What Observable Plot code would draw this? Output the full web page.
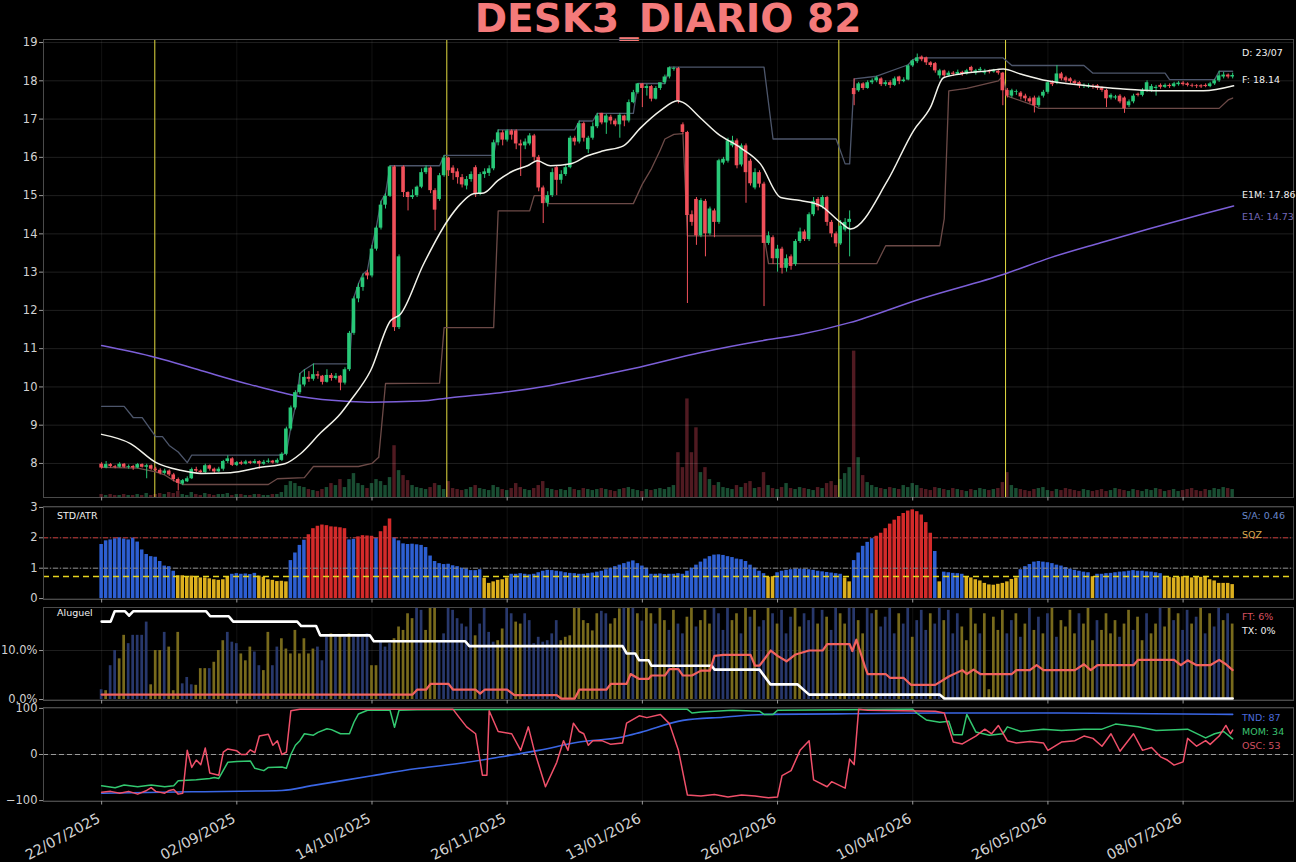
<!DOCTYPE html>
<html><head><meta charset="utf-8">
<script src="https://cdn.jsdelivr.net/npm/d3@7"></script>
<script src="https://cdn.jsdelivr.net/npm/@observablehq/plot@0.6"></script>
<style>
html,body{margin:0;padding:0;background:#000;}
#wrap{position:relative;width:1296px;height:862px;background:#000;overflow:hidden;font-family:"DejaVu Sans",sans-serif;}
.lbl{position:absolute;white-space:nowrap;line-height:1;font-family:"DejaVu Sans",sans-serif;}
#title{position:absolute;left:20px;width:1296px;text-align:center;top:-1px;font-size:39px;line-height:39px;font-weight:bold;color:#f47a7a;white-space:nowrap;}
</style></head><body><div id="wrap"><div id="title">DESK3_DIARIO 82</div></div>
<script>
// ---------- DATA ----------
const tickIdx = [0,30,60,90,120,150,180,210,240];
const tickLabels = ["22/07/2025","02/09/2025","14/10/2025","26/11/2025","13/01/2026","26/02/2026","10/04/2026","26/05/2026","08/07/2026"];
const priceTicks = [8,9,10,11,12,13,14,15,16,17,18,19];
const vlines = [11.8,76.6,163.6,200.6];

const O = [7.98,7.88,7.97,7.92,7.90,7.98,7.90,7.92,7.88,7.97,7.90,7.94,7.85,7.82,7.74,7.80,7.70,7.58,7.46,7.52,7.60,7.84,7.80,7.76,7.94,7.85,7.78,7.85,8.05,8.12,7.95,8.02,7.98,8.04,8.00,8.05,7.98,8.03,8.06,8.01,8.08,8.24,8.90,9.45,9.85,10.05,10.25,10.20,10.32,10.28,10.12,10.30,10.22,10.28,10.10,10.45,11.40,12.30,12.60,12.98,12.90,13.60,14.15,14.75,14.98,15.75,11.55,15.75,15.08,14.95,15.00,15.22,15.60,15.72,15.13,14.90,15.52,15.98,15.72,15.62,15.47,15.25,15.42,15.73,15.05,15.55,15.58,15.70,16.38,16.64,16.45,16.69,16.69,16.35,16.30,16.35,16.56,16.00,15.20,14.80,15.00,15.73,15.40,15.55,15.73,16.50,16.40,16.88,16.20,16.50,16.80,17.15,16.90,17.05,16.95,16.85,17.08,16.95,17.43,17.69,17.92,17.80,17.85,17.52,17.80,17.95,18.10,18.30,18.32,16.85,16.65,14.50,14.90,13.95,14.85,14.00,14.60,14.30,15.85,15.90,16.30,16.43,15.80,16.30,15.90,15.20,15.60,15.30,13.75,13.90,13.35,13.60,13.10,13.40,13.20,13.80,14.05,13.85,14.50,14.90,14.70,14.95,14.30,14.00,13.74,14.10,14.30,17.80,17.74,17.92,17.80,17.95,18.00,18.05,17.90,17.95,17.88,18.10,17.98,18.02,18.39,18.50,18.62,18.60,18.47,18.45,18.13,18.26,18.13,18.20,18.17,18.22,18.18,18.35,18.20,18.26,18.20,18.25,18.23,18.25,18.20,17.75,17.60,17.70,17.68,17.60,17.53,17.55,17.35,17.60,17.70,17.95,17.95,18.18,18.08,18.05,17.98,17.95,17.85,17.84,17.85,17.87,17.80,17.75,17.55,17.55,17.60,17.55,17.35,17.45,17.65,17.62,17.75,17.75,17.80,17.88,17.83,17.88,17.85,17.90,17.94,17.92,17.88,17.87,17.87,17.88,17.85,17.92,18.00,18.10,18.15,18.10];
const C = [7.88,7.97,7.92,7.90,7.98,7.90,7.92,7.88,7.97,7.90,7.94,7.85,7.82,7.74,7.80,7.70,7.58,7.48,7.55,7.60,7.84,7.80,7.76,7.94,7.85,7.78,7.85,8.05,8.12,7.95,8.02,7.98,8.04,8.00,8.05,7.98,8.03,8.06,8.01,8.08,8.24,8.90,9.45,9.85,10.05,10.25,10.20,10.32,10.28,10.12,10.30,10.22,10.28,10.10,10.45,11.40,12.30,12.60,12.85,12.90,13.60,14.15,14.75,14.98,15.75,11.55,13.40,15.08,14.95,15.00,15.22,15.60,15.72,15.13,14.62,15.52,15.98,15.65,15.58,15.47,15.28,15.42,15.55,15.05,15.55,15.62,15.70,16.38,16.64,16.45,16.69,16.58,16.35,16.30,16.40,16.56,16.00,15.20,14.79,15.00,15.60,15.40,15.55,15.73,16.50,16.40,16.88,16.50,16.50,16.80,17.08,16.90,17.08,16.95,16.85,17.10,16.95,17.43,17.69,17.92,17.80,17.85,17.52,17.80,17.95,18.10,18.34,18.32,17.48,16.65,14.48,14.30,13.95,14.87,14.00,14.65,14.30,15.91,15.95,16.43,16.43,15.78,16.30,15.60,15.31,15.60,15.30,13.75,13.95,13.35,13.60,13.10,13.35,13.15,13.80,14.05,13.85,14.50,14.85,14.70,14.95,14.30,14.00,13.74,14.20,14.30,14.38,17.64,17.92,17.80,17.95,18.00,18.08,17.90,17.95,17.88,18.05,17.98,18.02,18.39,18.52,18.60,18.55,18.47,18.40,18.26,18.26,18.13,18.20,18.17,18.22,18.18,18.26,18.26,18.26,18.30,18.25,18.23,18.27,18.20,17.74,17.60,17.74,17.72,17.58,17.53,17.45,17.35,17.55,17.70,17.95,17.90,18.18,18.05,18.00,17.98,17.93,17.87,17.87,17.88,17.83,17.80,17.75,17.53,17.62,17.58,17.45,17.27,17.45,17.60,17.62,17.75,17.95,17.85,17.83,17.83,17.88,17.85,17.92,17.94,17.90,17.88,17.86,17.85,17.84,17.85,17.92,18.00,18.13,18.15,18.10,18.14];
const H = [8.02,8.05,8.00,7.95,8.02,8.00,7.96,7.95,8.00,7.99,7.98,7.96,7.90,7.86,7.85,7.83,7.74,7.62,7.58,7.65,7.88,7.90,7.83,7.98,7.96,7.88,7.90,8.08,8.20,8.15,8.05,8.06,8.08,8.06,8.10,8.07,8.08,8.12,8.08,8.12,8.28,8.95,9.50,9.90,10.35,10.45,10.40,10.60,10.40,10.30,10.45,10.35,10.35,10.30,10.50,11.45,12.35,12.70,12.95,13.05,13.70,14.20,14.85,15.05,15.78,15.78,13.45,15.78,15.10,15.15,15.25,15.70,15.78,15.75,15.18,15.58,16.05,16.00,15.78,15.70,15.55,15.50,15.62,15.78,15.60,15.70,15.78,16.45,16.72,16.70,16.72,16.72,16.72,16.45,16.48,16.62,16.60,16.05,15.25,15.10,15.70,15.78,15.65,15.80,16.55,16.55,16.95,16.92,16.55,16.90,17.15,17.15,17.12,17.10,17.00,17.15,17.10,17.50,17.75,17.93,17.93,17.90,17.88,17.85,17.93,18.15,18.36,18.36,18.35,16.90,16.68,14.60,14.95,14.92,14.90,14.70,14.65,15.95,16.00,16.50,16.55,16.48,16.35,16.35,15.95,15.70,15.65,15.35,14.05,13.95,13.70,13.65,13.45,13.45,13.85,14.15,14.10,14.55,14.95,14.95,15.00,14.98,14.35,14.05,14.35,14.40,14.60,18.05,17.96,17.95,18.00,18.05,18.12,18.08,18.00,18.00,18.10,18.12,18.08,18.42,18.55,18.70,18.65,18.62,18.50,18.48,18.30,18.28,18.25,18.24,18.28,18.25,18.30,18.38,18.30,18.35,18.30,18.28,18.30,18.28,18.22,17.80,17.78,17.76,17.72,17.65,17.58,17.60,17.60,17.75,17.98,18.00,18.40,18.22,18.12,18.08,18.02,17.98,17.92,17.92,17.90,17.90,17.84,17.78,17.66,17.62,17.64,17.58,17.50,17.65,17.68,17.80,18.00,17.90,17.88,17.92,17.92,17.92,17.96,17.98,17.98,17.95,17.92,17.90,17.90,17.92,17.96,18.04,18.25,18.22,18.18,18.20];
const L = [7.85,7.86,7.88,7.86,7.88,7.87,7.85,7.82,7.86,7.88,7.60,7.82,7.78,7.70,7.70,7.66,7.52,7.28,7.42,7.50,7.58,7.76,7.72,7.74,7.80,7.72,7.76,7.80,8.00,7.92,7.92,7.95,7.96,7.97,7.98,7.85,7.95,8.00,7.98,7.99,8.05,8.20,8.85,9.40,9.80,10.00,10.12,10.15,10.20,10.05,10.10,10.15,10.18,9.90,10.05,10.40,11.35,12.20,12.50,12.80,12.85,13.55,14.10,14.65,14.95,11.45,11.50,14.95,14.60,14.90,14.95,15.18,15.55,15.05,14.08,14.85,15.48,15.50,15.40,15.30,15.20,15.15,15.35,14.95,15.00,15.45,15.50,15.65,16.30,16.30,16.40,16.45,16.20,15.50,16.20,16.30,15.90,15.10,14.27,14.70,14.95,15.00,15.30,15.50,15.70,16.30,16.35,16.40,16.10,16.45,16.75,16.85,16.60,16.85,16.80,16.50,16.80,16.90,17.40,17.65,17.30,17.60,17.45,17.50,17.75,17.90,18.05,18.25,17.40,16.60,12.18,14.20,13.70,13.90,13.40,13.95,13.90,14.25,15.80,15.85,16.25,15.70,15.75,14.80,15.25,15.15,15.20,12.10,13.70,13.20,13.00,12.95,13.00,13.05,13.15,13.75,13.80,13.80,14.45,14.60,14.65,14.20,13.90,13.65,13.70,14.05,13.40,17.35,17.70,17.75,17.78,17.90,17.95,17.85,17.85,17.80,17.85,17.90,17.95,18.00,18.35,18.45,18.50,18.40,18.35,18.20,18.05,18.08,18.10,18.12,18.14,18.12,18.15,18.20,18.15,18.22,18.15,18.18,18.20,18.15,17.35,17.55,17.55,17.62,17.50,17.45,17.40,17.16,17.30,17.55,17.65,17.85,17.90,18.00,17.95,17.92,17.88,17.80,17.80,17.80,17.78,17.75,17.70,17.30,17.50,17.50,17.40,17.15,17.30,17.40,17.58,17.58,17.70,17.70,17.60,17.78,17.80,17.80,17.82,17.86,17.86,17.84,17.82,17.80,17.80,17.82,17.82,17.88,17.96,18.05,18.05,18.05];
const volume = [3,2,3,2,2,3,2,2,3,2,4,2,3,4,3,5,4,6,3,2,5,3,2,4,3,2,3,3,4,2,3,3,2,2,3,3,2,2,3,3,5,12,16,14,11,10,8,7,6,8,10,14,12,18,10,18,24,14,12,9,14,18,16,12,20,52,27,22,17,12,10,9,8,10,14,12,8,16,9,8,7,8,10,12,9,8,7,12,10,8,7,9,14,10,8,7,9,12,16,9,8,7,8,7,10,8,7,9,8,7,8,9,8,7,6,8,9,10,8,7,6,8,7,8,9,8,10,12,45,30,99,45,70,25,30,18,12,15,10,9,8,12,10,14,16,9,10,25,12,9,8,10,14,9,8,10,9,8,7,10,9,14,16,12,18,24,30,147,40,22,15,12,10,9,8,10,9,8,12,10,14,12,9,8,7,10,9,8,7,9,8,7,6,8,7,9,8,7,8,9,15,25,12,9,8,7,6,8,9,10,7,6,8,7,9,8,7,6,8,7,6,7,8,6,7,9,8,7,6,8,7,6,8,7,9,8,6,7,8,6,7,8,9,7,6,8,7,9,8,10,9,8];

const upperBand = [[0,9.49],[5,9.49],[7,9.2],[9,9.2],[12,8.7],[13.5,8.7],[15,8.47],[17,8.3],[19,8.02],[20,8.22],[40,8.22],[41,8.28],[42,8.95],[43,9.5],[44,10.35],[45,10.45],[47,10.6],[55,10.6],[56,12.35],[57,12.7],[58,12.95],[59,13.05],[60,13.7],[61,14.2],[62,14.85],[63,15.05],[64,15.78],[75,15.78],[76,16.05],[87,16.05],[88,16.72],[105,16.72],[106,16.95],[109,16.95],[110,17.15],[118,17.15],[119,17.93],[125,17.93],[126,18.36],[147,18.36],[149,16.48],[163,16.48],[165,15.83],[166,15.83],[167,18.05],[172,18.12],[179,18.42],[180,18.55],[181,18.6],[200,18.6],[202,18.4],[218,18.4],[220,18.2],[236,18.2],[237,18.03],[247,18.03],[248,18.25],[251,18.25]];
const lowerBand = [[0,7.9],[8,7.88],[12,7.78],[14,7.7],[16,7.55],[18,7.45],[37,7.45],[39,7.6],[45,7.63],[47,7.92],[57,7.92],[60,8.0],[61.5,8.16],[63,10.09],[75,10.1],[76,11.55],[87,11.55],[88,14.6],[95,14.6],[96,15.0],[98,15.0],[99,14.79],[118,14.79],[120,15.3],[122,15.7],[124,16.2],[125,16.48],[127,16.6],[129,16.62],[130,13.95],[147,13.95],[148,13.22],[172,13.22],[174,13.69],[186,13.69],[187,14.4],[188,17.74],[192,17.8],[199,18.0],[200,18.13],[201,17.6],[207,17.35],[208,17.28],[248,17.28],[250,17.5],[251,17.55]];
const e1m = [[0,8.76],[6.4,8.52],[12,8.03],[17.5,7.82],[22,7.74],[28.6,7.76],[35.3,7.9],[40.8,8.0],[44.2,8.26],[48.6,8.8],[53,9.3],[55.2,9.64],[59.7,10.43],[64.1,11.73],[66.3,11.9],[71.4,13.2],[76.8,14.35],[79.7,14.79],[82.5,15.05],[84.8,15.07],[87.9,15.39],[91.4,15.65],[94.5,15.78],[96.7,15.91],[99.6,15.78],[104.1,15.83],[107.8,16.04],[111.4,16.17],[115.8,16.3],[119.6,16.77],[124,17.22],[127.8,17.48],[129.1,17.43],[132.9,17.03],[136.7,16.62],[141.8,16.25],[146.2,15.83],[150.7,14.95],[155.1,14.87],[159.5,14.74],[164,14.3],[166.2,14.13],[174.4,15.39],[180.2,16.7],[183.9,17.3],[186.8,18.08],[190.6,18.18],[196.6,18.26],[200.1,18.31],[203.9,18.18],[209.9,18.0],[218.8,17.87],[226.1,17.79],[233.4,17.74],[244.5,17.74],[251.2,17.87]];
const e1a = [[0,11.08],[12,10.77],[22,10.43],[33,10.06],[44,9.75],[55,9.62],[60,9.6],[70.8,9.63],[77.4,9.72],[88.5,9.85],[99.6,10.04],[110.7,10.3],[118,10.48],[133,10.9],[146.2,11.2],[155,11.37],[166,11.68],[181.7,12.3],[200.6,12.96],[210.6,13.38],[221.7,13.77],[232.7,14.14],[243.8,14.5],[251.2,14.73]];

const stdAtr = [1.78,1.90,1.93,1.97,2.00,1.96,1.93,1.99,1.86,1.60,1.45,1.38,1.36,1.22,1.07,1.05,0.90,0.75,0.75,0.72,0.74,0.70,0.68,0.68,0.65,0.62,0.60,0.62,0.70,0.80,0.82,0.80,0.81,0.79,0.83,0.74,0.70,0.62,0.60,0.56,0.57,0.55,1.25,1.50,1.75,1.92,2.10,2.30,2.38,2.42,2.40,2.36,2.35,2.33,2.30,1.93,1.95,2.03,2.07,2.06,2.05,1.99,2.20,2.38,2.62,2.00,1.90,1.80,1.78,1.79,1.77,1.75,1.68,1.40,1.22,1.15,1.12,1.13,1.08,1.05,1.00,0.97,0.92,0.92,0.95,0.67,0.50,0.55,0.60,0.62,0.68,0.80,0.80,0.82,0.80,0.78,0.80,0.85,0.90,0.93,0.92,0.90,0.88,0.85,0.83,0.82,0.80,0.80,0.82,0.84,0.87,0.90,0.95,1.00,1.05,1.10,1.15,1.20,1.24,1.15,1.07,1.00,0.80,0.80,0.81,0.79,0.80,0.80,0.82,0.80,0.90,1.00,1.10,1.20,1.30,1.38,1.43,1.44,1.42,1.38,1.35,1.30,1.28,1.22,1.10,1.00,0.90,0.82,0.70,0.72,0.85,0.90,0.93,0.95,0.97,0.97,0.96,0.95,0.93,0.90,0.88,0.86,0.84,0.82,0.80,0.68,0.55,1.25,1.50,1.72,1.85,1.97,2.05,2.15,2.30,2.45,2.58,2.70,2.80,2.88,2.92,2.86,2.75,2.50,2.15,1.55,0.55,0.87,0.85,0.83,0.82,0.80,0.70,0.68,0.62,0.58,0.50,0.45,0.44,0.47,0.50,0.55,0.63,0.68,0.95,1.05,1.12,1.20,1.22,1.20,1.18,1.15,1.10,1.07,1.02,0.97,0.93,0.90,0.87,0.85,0.72,0.80,0.80,0.82,0.83,0.85,0.87,0.88,0.90,0.92,0.90,0.90,0.88,0.87,0.85,0.82,0.73,0.70,0.68,0.70,0.72,0.70,0.68,0.72,0.70,0.73,0.62,0.58,0.50,0.50,0.50,0.46];
const stdLevels = {high: 2.0, mid: 1.0, sqz: 0.73};

const aluguel = [2.0,1.8,6.9,10.0,8.3,13.1,11.4,13.1,13.1,13.1,15.8,3.0,10.0,10.0,13.7,10.7,1.8,13.7,3.2,4.5,3.0,2.9,6.3,6.3,6.3,7.6,10.0,12.0,13.7,11.7,11.4,9.3,7.9,10.7,9.7,6.9,5.9,13.7,6.9,10.7,12.4,10.3,9.3,14.1,9.3,12.4,9.3,10.3,10.7,7.9,12.7,13.4,12.7,13.1,12.7,13.4,12.7,13.1,12.7,13.4,6.9,6.9,11.7,10.7,11.4,12.4,14.8,14.1,17.5,16.5,19,18.2,14.1,19,19,12.0,13.4,19,18.2,16.5,15.4,14.8,19,13.0,15.4,19,13.7,11.7,12.0,14.4,19,17.5,15.8,15.4,17.5,16.1,11.4,12.7,11.7,12.0,13.4,16.1,12.0,12.7,13.0,19,19,16.1,15.5,14.0,17.5,18,17.5,15.4,16.5,18.5,19,19,19,17.5,16.0,19,17.5,15.4,18.8,16.1,14.1,18.2,15.4,13.4,16.8,18.8,14.8,16.1,18.2,15.4,18.8,17.5,14.1,18.8,16.1,17.5,13.4,18.8,16.8,18.2,14.8,16.1,18.8,17.5,15.4,18.2,13.4,16.8,18.8,14.8,17.5,16.1,18.8,15.4,18.2,16.8,14.1,18.8,17.5,15.4,18.8,18.8,16.1,13.4,18.8,17.5,18.2,14.8,16.8,18.8,13.4,17.5,15.4,18.8,12.7,16.1,18.2,14.1,17.5,15.4,18.8,16.1,18.2,13.4,17.5,14.8,12.0,18.8,15.4,13.4,17.5,2.0,16.8,14.1,18.2,13.4,16.1,17.5,12.7,15.4,18.8,14.1,16.8,13.4,17.5,18.8,12.7,16.1,14.8,18.2,13.4,17.5,15.4,18.8,12.0,16.1,14.1,17.5,13.4,16.1,12.7,15.4,18.2,14.1,16.8,12.0,17.5,13.4,15.4,18.8,14.8,18.8,16.1,17.5,14.1,18.2,15.4,16.8,18.8,13.4,17.5,14.8,18.8,16.1,17.5,15.4];
const aluguelSide = "bybbyybbbbbyyybyyybbbyyybyyybbbyyybbyybbyyyyyyyybbbybybybbbbyybbbyyyyybbyyybbbbbbbbybbbbyybbyybbbbbbbbyyyyyyyyybbyyybybybyybyybybbyybyyybbbbyybybybbybybbbyybbbybybbyybbyybbybbbbybbybbbybbybbbyyyybyyyyybbybybybybybyyyybyyybyyyybyybyybyybyybybbybybybbybybybb";
const alugTicks = [0,10];
const ftLine = [[0,1.0],[69,1.0],[70,2.0],[72,2.0],[73,3.2],[77,3.2],[78,2.0],[83,2.0],[84,1.2],[85,2.0],[90,2.0],[91.6,0.9],[101,0.9],[102,0.2],[105,0.2],[106,2.0],[112,2.0],[113,3.2],[116.5,3.2],[117.4,5.2],[119.3,4.2],[121.4,4.2],[122,4.9],[125,4.9],[126,6.2],[128,6.2],[129,4.9],[131,4.9],[133,5.9],[135,5.9],[136,8.9],[138,9.1],[144,9.1],[145,6.9],[146,6.9],[148.5,10],[150,8.9],[152,7.8],[154,9.2],[157,10],[160,10],[161,11.3],[166,11.3],[166.6,9.9],[167.5,12.2],[169.4,6.7],[170,5.2],[174,5.2],[175,4.4],[178,4.4],[179.6,3.0],[185,3.0],[188,4.7],[191,6.0],[192,5.2],[193.5,6.1],[195,5.2],[202,5.2],[203,6.0],[206,6.0],[207.5,7.0],[209,6.0],[216,6.0],[218,7.2],[219.5,6.0],[221,7.0],[229,7.0],[230,8.1],[238,8.1],[239.5,7.0],[241,8.0],[243,7.0],[246,7.0],[248,8.1],[249.5,7.2],[251,6.0]];
const txLine = [[0,15.9],[2,15.9],[2.9,18.0],[5.2,18.0],[6.1,17.1],[7,18.0],[23.2,18.0],[24.1,17.0],[28.2,17.0],[29.2,15.9],[43.4,15.9],[44.3,15.0],[47.6,15.0],[48.5,13.1],[59.5,13.1],[60.4,11.9],[80.7,11.9],[81.6,10.9],[115.6,10.9],[116.5,9.4],[118.4,9.4],[119.3,8.0],[121.4,8.0],[122,6.9],[135.4,6.9],[136,6.1],[146,6.1],[148.4,3.1],[154.4,3.1],[157,1.0],[186,1.0],[187,0.2],[251,0.2]];

const oscTicks = [-100,0,100];
const tnd = [[0,-84],[20,-81],[40,-78],[47,-67],[60,-46],[69.6,-31],[78.8,-20],[88,-6],[97,9],[106,27],[115.6,38],[119.6,48],[129,74],[138,81],[147.5,87],[166,88.4],[185,90],[213,90],[251,87]];
const mom = [[0,-68],[3,-72],[5,-66],[8,-70],[11,-66],[14,-70],[16,-68],[17,-57],[21,-55],[24,-52],[25,-50],[26,-52],[28,-17],[30,-15],[33,-14],[34,-30],[36,-35],[37,-28],[40,-27],[41,-30],[42,0],[43,20],[44,30],[45,45],[47,42],[48,48],[50,56],[51,54],[53,45],[55,45],[56,70],[57,88],[59,96],[64,96],[65,59],[66,96],[70,97],[119,98],[130,98],[131,90],[133,92],[140,96],[146,94],[147,87],[149,87],[150,96],[180,98],[181,89],[183,75],[186,70],[188,72],[189,43],[191,43],[192,87],[194,49],[197,42],[200,45],[201,60],[204,50],[209,55],[213,52],[218,55],[222,55],[225,66],[230,60],[234,52],[241,55],[245,36],[247,45],[249,50],[251,34]];
const osc = [[0,-82],[2,-80],[4,-84],[6,-80],[8,-86],[10,-78],[11,-72],[12,-80],[14,-84],[15,-78],[16,-76],[17,-86],[18,-84],[19,9],[20,-28],[21,-12],[22,-22],[23,14],[24,-40],[26,-45],[27,5],[28,12],[30,8],[31,0],[32,0],[33,10],[34,4],[35,40],[37,44],[38,20],[39,30],[40,0],[41,5],[42,95],[44,98],[78,98],[79,85],[81,60],[83,45],[84.5,-45],[85.5,-45],[86,95],[88,50],[91,45],[93,9],[94.7,60],[96,9],[98.5,-70],[101,-17],[102.5,30],[103.5,9],[104.7,68],[106,50],[107,45],[108,20],[109,30],[111,30],[113,22],[115.6,25],[116.5,68],[119.3,84],[121,80],[124,87],[126,67],[128,9],[130,-88],[133,-90],[136,-87],[139,-92],[142,-88],[145,-90],[148,-94],[150,-92],[151,-46],[153,-35],[155,9],[157,30],[158,-55],[161,-70],[162,-59],[165,-73],[166,-10],[167,-22],[168,98],[170,96],[185,94],[187,90],[189,27],[191,23],[194,40],[196,55],[197.5,45],[199,63],[201,30],[203,25],[206,28],[209,25],[210,9],[213,27],[216,30],[218,40],[220,35],[222,18],[224,45],[226,7],[229,45],[231,9],[233,15],[235,-5],[236.5,-12],[238,-23],[240,-16],[241,35],[243,18],[245,30],[246,22],[248,40],[249.5,63],[250.5,45],[251,53]];

// ---------- STYLE ----------
const GREEN = "#28c878", RED = "#f0505a";
const W = 1296, ML = 43, MR = 3;
const XD = [-12.9, 264.5];
const AX = "#d2d2d2";
const FRAME = "#4a4a4a";
const wrap = document.getElementById("wrap");

function addPlot(top, height, mt, mb, ydomain, marks) {
  const p = Plot.plot({
    width: W, height, marginLeft: ML, marginRight: MR, marginTop: mt, marginBottom: mb,
    x: {domain: XD, axis: null},
    y: {domain: ydomain, axis: null},
    color: {type: "identity"},
    style: {background: "transparent", color: AX, fontFamily: "DejaVu Sans, sans-serif", fontSize: "11px", overflow: "visible"},
    marks
  });
  p.style.position = "absolute"; p.style.left = "0px"; p.style.top = top + "px";
  wrap.appendChild(p);
  return p;
}
function lbl(text, x, y, color, size) {
  const d = document.createElement("div");
  d.className = "lbl"; d.textContent = text;
  d.style.left = x + "px"; d.style.top = (y - size * 0.55) + "px";
  d.style.color = color; d.style.fontSize = size + "px";
  wrap.appendChild(d);
  return d;
}

const bars = C.map((c, i) => ({i, o: O[i], c, h: H[i], l: L[i], v: volume[i], up: c >= O[i]}));
const gridOpts = {stroke: "#ffffff", strokeOpacity: 0.12};
const gridXOpts = {stroke: "#ffffff", strokeOpacity: 0.07};
const yAxis = (ticks, fmt) => Plot.axisY(ticks, {tickSize: 4, tickPadding: 2, stroke: "#9a9a9a", label: null, fontSize: 11.5, ...(fmt ? {tickFormat: fmt} : {})});
const xTicksBlank = () => Plot.axisX(tickIdx, {tickSize: 3.5, tickFormat: () => "", stroke: "#9a9a9a", label: null});

// volume overlay (own scale, beneath candles)
addPlot(0, 500, 39, 3, [0, 460], [
  Plot.rect(bars, {x1: d => d.i - 0.38, x2: d => d.i + 0.38, y1: 0, y2: "v", fill: d => d.up ? "#1d5a3b" : "#5e1f27", fillOpacity: 0.85})
]);

// main price panel
addPlot(0, 500, 39, 3, [7.11, 19.08], [
  Plot.gridY(priceTicks, gridOpts),
  Plot.gridX(tickIdx, gridXOpts),
  Plot.ruleX(vlines, {stroke: "#e4dc40", strokeWidth: 1}),
  Plot.line(upperBand, {x: d => d[0], y: d => d[1], stroke: "#4d566b", strokeWidth: 1.3}),
  Plot.line(lowerBand, {x: d => d[0], y: d => d[1], stroke: "#6c4a47", strokeWidth: 1.3}),
  Plot.line(e1a, {x: d => d[0], y: d => d[1], stroke: "#7c5fd8", strokeWidth: 1.5, curve: "monotone-x"}),
  Plot.ruleX(bars, {x: "i", y1: "l", y2: "h", stroke: d => d.up ? GREEN : RED, strokeWidth: 1}),
  Plot.rect(bars, {x1: d => d.i - 0.4, x2: d => d.i + 0.4, y1: "o", y2: "c", fill: d => d.up ? GREEN : RED}),
  Plot.line(e1m, {x: d => d[0], y: d => d[1], stroke: "#f2f2ea", strokeWidth: 1.5, curve: "monotone-x"}),
  Plot.frame({stroke: FRAME}),
  yAxis(priceTicks),
  xTicksBlank()
]);

// STD/ATR panel
const stdData = stdAtr.map((v, i) => ({i, v}));
addPlot(500, 100, 6, 1, [-0.03, 3.03], [
  Plot.gridY([0,1,2,3], gridOpts),
  Plot.gridX(tickIdx, gridXOpts),
  Plot.rect(stdData, {x1: d => d.i - 0.39, x2: d => d.i + 0.39, y1: 0, y2: "v",
    fill: d => d.v > stdLevels.high ? "#d42a2a" : d.v < stdLevels.sqz + 0.03 ? "#dcaf1e" : "#2d5fd2"}),
  Plot.ruleY([stdLevels.high], {stroke: "#c83a3a", strokeWidth: 1, strokeDasharray: "5,2,1,2"}),
  Plot.ruleY([stdLevels.mid], {stroke: "#8a8a8a", strokeWidth: 1, strokeDasharray: "5,2,1,2"}),
  Plot.ruleY([stdLevels.sqz], {stroke: "#e6d41e", strokeWidth: 1.5, strokeDasharray: "6,4"}),
  Plot.frame({stroke: FRAME}),
  yAxis([0,1,2,3]),
  xTicksBlank()
]);

// Aluguel panel
const alData = aluguel.map((v, i) => ({i, v, s: aluguelSide[i]}));
addPlot(600, 100, 7, 0, [-0.2, 18.78], [
  Plot.gridY(alugTicks, gridOpts),
  Plot.gridX(tickIdx, gridXOpts),
  Plot.rect(alData, {x1: d => d.i - 0.3, x2: d => d.i + 0.3, y1: 0, y2: "v", fill: d => d.s === "y" ? "#786a1c" : "#28386c", clip: true}),
  Plot.line(txLine, {x: d => d[0], y: d => d[1], stroke: "#ffffff", strokeWidth: 2.6}),
  Plot.line(ftLine, {x: d => d[0], y: d => d[1], stroke: "#f2625e", strokeWidth: 2.2}),
  Plot.frame({stroke: FRAME}),
  yAxis(alugTicks, d => d.toFixed(1) + "%"),
  xTicksBlank()
]);

// Oscillator panel + date labels
addPlot(700, 162, 7, 61, [-102, 102], [
  Plot.gridY(oscTicks, gridOpts),
  Plot.gridX(tickIdx, gridXOpts),
  Plot.ruleY([0], {stroke: "#9a9a9a", strokeWidth: 1, strokeDasharray: "5,3"}),
  Plot.line(tnd, {x: d => d[0], y: d => d[1], stroke: "#3a66e4", strokeWidth: 1.6, curve: "monotone-x"}),
  Plot.line(mom, {x: d => d[0], y: d => d[1], stroke: "#33c870", strokeWidth: 1.5}),
  Plot.line(osc, {x: d => d[0], y: d => d[1], stroke: "#f0506a", strokeWidth: 1.5}),
  Plot.frame({stroke: FRAME}),
  yAxis(oscTicks, d => d < 0 ? "\u2212" + Math.abs(d) : String(d)),
  xTicksBlank(),
  Plot.text(tickIdx, {x: d => d, text: (d, i) => tickLabels[i], frameAnchor: "bottom", dy: 11, dx: -5,
    rotate: -28, textAnchor: "end", lineAnchor: "top", fontSize: 14.3, fill: AX})
]);

lbl("D: 23/07", 1242, 53, "#f0f0f0", 9.5);
lbl("F: 18.14", 1242, 80, "#f0f0f0", 9.5);
lbl("E1M: 17.86", 1242, 195, "#f0f0f0", 9.5);
lbl("E1A: 14.73", 1242, 217, "#7468b8", 9.5);
lbl("STD/ATR", 57, 516, "#f0f0f0", 9.5);
lbl("S/A: 0.46", 1242, 516, "#6a88cc", 9.5);
lbl("SQZ", 1242, 535, "#d8a850", 9.5);
lbl("Aluguel", 57, 613, "#f0f0f0", 9.5);
lbl("FT: 6%", 1242, 617, "#d85060", 9.5);
lbl("TX: 0%", 1242, 631, "#f0f0f0", 9.5);
lbl("TND: 87", 1242, 718, "#4a6ad8", 9.5);
lbl("MOM: 34", 1242, 732, "#3cc070", 9.5);
lbl("OSC: 53", 1242, 746, "#d05060", 9.5);
</script></body></html>
